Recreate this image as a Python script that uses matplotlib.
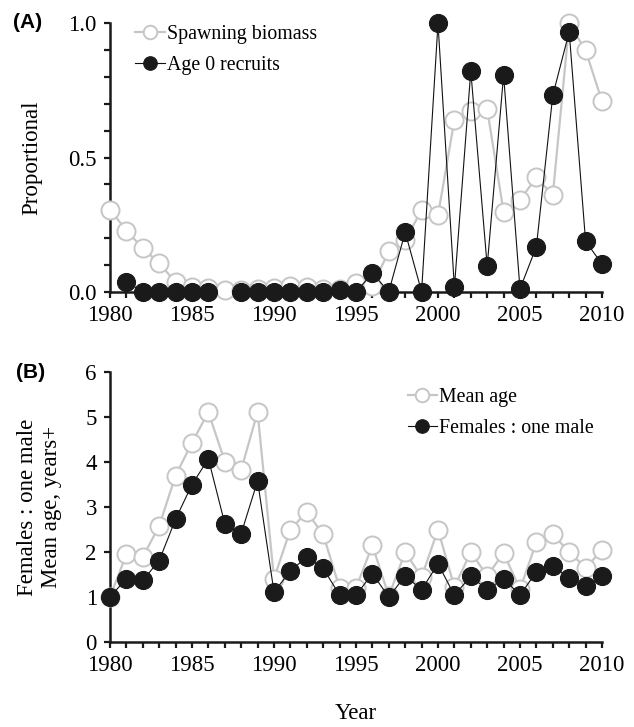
import numpy as np
import matplotlib
matplotlib.use("Agg")
import matplotlib.pyplot as plt
from matplotlib.ticker import MultipleLocator

years = list(range(1980, 2011))
spawning_biomass = [0.306, 0.228, 0.162, 0.106, 0.035, 0.016, 0.014, 0.006, 0.008, 0.010,
                    0.014, 0.020, 0.016, 0.010, 0.010, 0.031, 0.022, 0.150, 0.192, 0.304,
                    0.285, 0.640, 0.672, 0.680, 0.298, 0.342, 0.426, 0.360, 1.000, 0.900,
                    0.710]
age0_recruits = [np.nan, 0.037, 0.0, 0.0, 0.0, 0.0, 0.0, np.nan, 0.0, 0.0,
                 0.0, 0.0, 0.0, 0.0, 0.007, 0.0, 0.068, 0.0, 0.222, 0.0,
                 1.000, 0.016, 0.823, 0.095, 0.808, 0.010, 0.168, 0.732, 0.969, 0.188,
                 0.103]
mean_age = [1.00, 1.95, 1.89, 2.58, 3.70, 4.43, 5.11, 4.01, 3.83, 5.11,
            1.41, 2.50, 2.89, 2.39, 1.20, 1.20, 2.15, 1.02, 2.00, 1.44,
            2.50, 1.22, 2.00, 1.47, 1.98, 1.17, 2.22, 2.39, 2.00, 1.65,
            2.04]
females_per_male = [1.00, 1.41, 1.37, 1.81, 2.73, 3.50, 4.07, 2.63, 2.41, 3.58,
                    1.11, 1.58, 1.89, 1.64, 1.04, 1.04, 1.52, 1.00, 1.47, 1.16,
                    1.74, 1.04, 1.46, 1.16, 1.41, 1.04, 1.56, 1.68, 1.43, 1.24,
                    1.46]

plt.rcParams['font.family'] = ['Liberation Serif', 'DejaVu Serif']
plt.rcParams['font.size'] = 16

fig = plt.figure(figsize=(6.34, 7.27), dpi=100)
axA = fig.add_axes([0.1735, 0.5988, 0.776, 0.3689])
axB = fig.add_axes([0.1735, 0.1169, 0.776, 0.3714])

grey = '#c6c6c6'
ms = 13

def style(ax):
    for s in ['top', 'right']:
        ax.spines[s].set_visible(False)
    for s in ['left', 'bottom']:
        ax.spines[s].set_linewidth(1.8)
        ax.spines[s].set_color('#1a1a1a')
    ax.set_xlim(1980, 2010)
    ax.xaxis.set_major_locator(MultipleLocator(5))
    ax.xaxis.set_minor_locator(MultipleLocator(1))
    ax.tick_params(axis='both', which='both', direction='out', width=1.6, color='#1a1a1a', labelsize=16.5)
    ax.tick_params(axis='both', which='major', length=4.5, pad=5)
    ax.tick_params(axis='both', which='minor', length=4)

# Panel A
axA.plot(years, spawning_biomass, color=grey, lw=1.6, marker='o', ms=ms,
         mfc='white', mec=grey, mew=1.4, clip_on=False, zorder=3, label='Spawning biomass')
axA.plot(years, age0_recruits, color='#111111', lw=0.8, marker='o', ms=ms,
         mfc='#1a1a1a', mec='#1a1a1a', mew=0.8, clip_on=False, zorder=4, label='Age 0 recruits')
axA.set_ylim(0, 1)
axA.yaxis.set_major_locator(MultipleLocator(0.5))
axA.yaxis.set_minor_locator(MultipleLocator(0.1))
axA.yaxis.set_major_formatter(matplotlib.ticker.FormatStrFormatter('%.1f'))
style(axA)
axA.set_ylabel('Proportional', fontsize=16.5, labelpad=19)
legA = axA.legend(loc='upper left', bbox_to_anchor=(0.035, 1.025), frameon=False,
                  fontsize=14.3, handlelength=1.5, handletextpad=0.1, labelspacing=0.6,
                  markerscale=0.75, borderaxespad=0)

# Panel B
axB.plot(years, mean_age, color=grey, lw=1.6, marker='o', ms=ms,
         mfc='white', mec=grey, mew=1.4, clip_on=False, zorder=3, label='Mean age')
axB.plot(years, females_per_male, color='#111111', lw=0.8, marker='o', ms=ms,
         mfc='#1a1a1a', mec='#1a1a1a', mew=0.8, clip_on=False, zorder=4, label='Females : one male')
axB.set_ylim(0, 6)
axB.yaxis.set_major_locator(MultipleLocator(1))
axB.yaxis.set_minor_locator(matplotlib.ticker.NullLocator())
style(axB)
axB.set_ylabel('Females : one male\nMean age, years+', fontsize=16.5, labelpad=17, linespacing=1.15)
axB.set_xlabel('Year', fontsize=16.5, labelpad=19)
legB = axB.legend(loc='upper right', bbox_to_anchor=(1.0, 0.97), frameon=False,
                  fontsize=14.3, handlelength=1.5, handletextpad=0.1, labelspacing=0.6,
                  markerscale=0.75, borderaxespad=0)

fig.text(0.020, 0.969, '(A)', fontsize=15, fontweight='bold', family='Liberation Sans', va='center')
fig.text(0.025, 0.488, '(B)', fontsize=15, fontweight='bold', family='Liberation Sans', va='center')

fig.savefig('out.png', dpi=100)
